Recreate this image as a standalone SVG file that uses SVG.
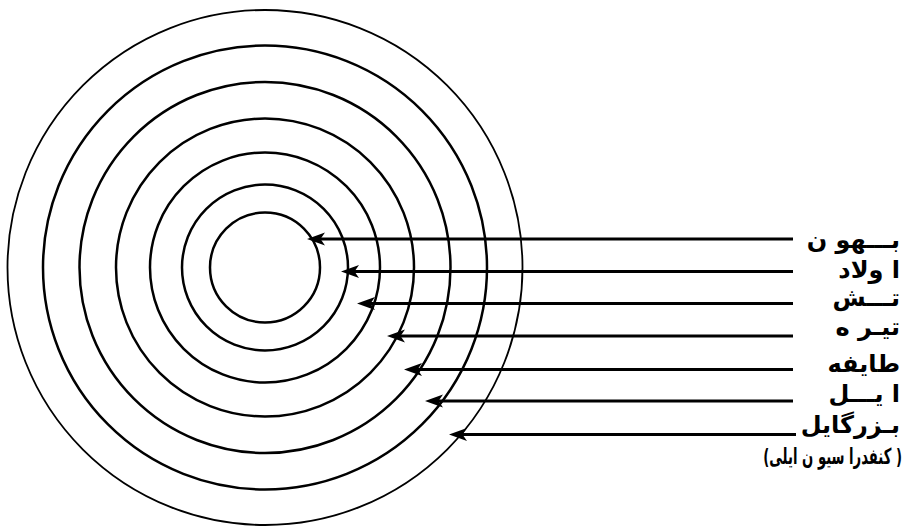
<svg xmlns="http://www.w3.org/2000/svg" width="910" height="528" viewBox="0 0 910 528">
<style>
.ring{fill:none;stroke:#000;stroke-width:2.5}
.outer{fill:none;stroke:#000;stroke-width:1.8}
.ln{stroke:#000;stroke-width:3;fill:none}
.lbl{font-family:"DejaVu Sans",sans-serif;font-size:24px;font-weight:bold;fill:#000;text-anchor:end}
</style>
<defs>
<path id="ah" d="M0,0 L18,-6.5 L13.5,0 L18,6.5 Z" fill="#000"/>
</defs>
<rect width="910" height="528" fill="#fff"/>
<g id="rings">
<circle id="r1" class="outer" cx="265" cy="267.5" r="257.5"/>
<circle id="r2" class="ring" cx="265" cy="267.5" r="222"/>
<circle id="r3" class="ring" cx="265" cy="267.5" r="185.5"/>
<circle id="r4" class="ring" cx="265" cy="267.5" r="149"/>
<circle id="r5" class="ring" cx="265" cy="267.5" r="115"/>
<circle id="r6" class="ring" cx="265" cy="267.5" r="83"/>
<circle id="r7" class="ring" cx="265" cy="267.5" r="55"/>
</g>
<g id="connectors">
<line class="ln" x1="319" y1="239" x2="793" y2="239"/><use href="#ah" x="307" y="239"/>
<line class="ln" x1="353" y1="271.5" x2="793" y2="271.5"/><use href="#ah" x="341" y="271.5"/>
<line class="ln" x1="369" y1="303.5" x2="793" y2="303.5"/><use href="#ah" x="357" y="303.5"/>
<line class="ln" x1="399" y1="336" x2="793" y2="336"/><use href="#ah" x="387" y="336"/>
<line class="ln" x1="416" y1="369.5" x2="793" y2="369.5"/><use href="#ah" x="404" y="369.5"/>
<line class="ln" x1="437" y1="401" x2="793" y2="401"/><use href="#ah" x="425" y="401"/>
<line class="ln" x1="461" y1="434.5" x2="796" y2="434.5"/><use href="#ah" x="449" y="434.5"/>
</g>
<g id="labels">
<text id="t1" class="lbl" x="900" y="248">بـــهو ن</text>
<text id="t2" class="lbl" x="900" y="278">ا ولاد</text>
<text id="t3" class="lbl" x="900" y="306">تـــش</text>
<text id="t4" class="lbl" x="900" y="335">تیـر ه</text>
<text id="t5" class="lbl" x="900" y="372">طایفه</text>
<text id="t6" class="lbl" x="900" y="402">ا یـــل</text>
<text id="t7" class="lbl" x="900" y="433">بـزرگایل</text>
<text id="t8" class="lbl" style="font-size:22px" transform="translate(902,464) scale(0.6,1)" x="0" y="0">(کنفدرا سیو ن ایلی )</text>
</g>
</svg>
